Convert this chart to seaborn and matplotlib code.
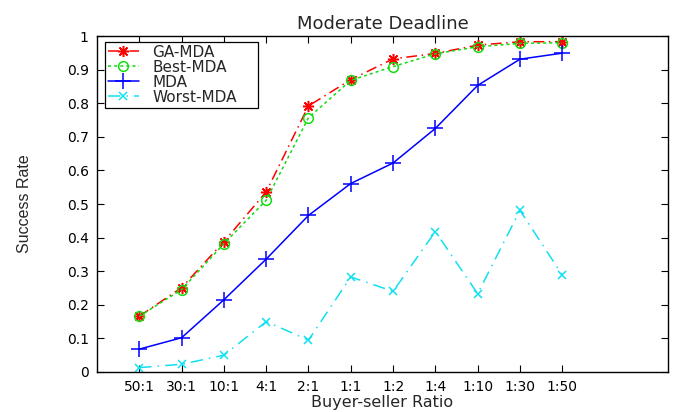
import matplotlib
matplotlib.use("Agg")
import matplotlib.pyplot as plt
import seaborn as sns
import pandas as pd

ratios = ["50:1", "30:1", "10:1", "4:1", "2:1", "1:1", "1:2", "1:4", "1:10", "1:30", "1:50"]
ga_mda = [0.166, 0.251, 0.388, 0.536, 0.792, 0.870, 0.932, 0.948, 0.973, 0.983, 0.983]
best_mda = [0.166, 0.245, 0.382, 0.511, 0.757, 0.868, 0.909, 0.947, 0.968, 0.978, 0.980]
mda = [0.068, 0.102, 0.215, 0.336, 0.466, 0.561, 0.622, 0.725, 0.853, 0.931, 0.949]
worst_mda = [0.013, 0.023, 0.050, 0.150, 0.095, 0.283, 0.240, 0.418, 0.233, 0.481, 0.289]

sns.set_style("ticks")
plt.rcParams["font.family"] = ["DejaVu Sans"]

fig = plt.figure(figsize=(6.77, 4.12), dpi=100)
ax = fig.add_axes([0.1433, 0.0971, 0.8434, 0.8155])

pos = list(range(1, len(ratios) + 1))
series = [
    ("GA-MDA", ga_mda, "#ff0000", (0, (7, 3, 1, 3)), (8, 2, 0), 8),
    ("Best-MDA", best_mda, "#11dd11", (0, (2, 2)), "o", 7),
    ("MDA", mda, "#0000ff", "-", "+", 11),
    ("Worst-MDA", worst_mda, "#10e0f0", (0, (8, 4, 1, 4)), "x", 6),
]
for name, vals, color, ls, marker, ms in series:
    df = pd.DataFrame({"x": pos, "y": vals})
    sns.lineplot(data=df, x="x", y="y", ax=ax, color=color, linestyle=ls,
                 marker=marker, markersize=ms, markerfacecolor="none",
                 markeredgecolor=color, markeredgewidth=1.1, linewidth=1.1,
                 label=name)

ax.set_xlim(0, 13.5)
ax.set_ylim(0, 1)
ax.set_xticks(pos)
ax.set_xticklabels(ratios)
ax.set_yticks([i / 10 for i in range(11)])
ax.set_yticklabels(["0", "0.1", "0.2", "0.3", "0.4", "0.5", "0.6", "0.7", "0.8", "0.9", "1"])
ax.tick_params(direction="in", length=5, width=0.8, top=True, right=True,
               labelsize=10, colors="black", pad=6)
for sp in ax.spines.values():
    sp.set_visible(True)
    sp.set_color("black")
    sp.set_linewidth(1.0)

ax.set_title("Moderate Deadline", fontsize=13, pad=5)
ax.set_xlabel("Buyer-seller Ratio", fontsize=11.5)
ax.xaxis.set_label_coords(0.5, -0.067)
ax.set_ylabel("Success Rate", fontsize=11.5, labelpad=25,
              family=["Liberation Sans", "DejaVu Sans"])

leg = ax.legend(loc="upper left", bbox_to_anchor=(0.014, 0.5, 0.268, 0.483),
                mode="expand", borderaxespad=0.0,
                fontsize=11, frameon=True, fancybox=False,
                edgecolor="black", framealpha=1, handlelength=2.0,
                borderpad=0.2, labelspacing=0.0, handletextpad=0.9)
leg.get_frame().set_linewidth(0.9)

fig.savefig("out.png", dpi=100)
